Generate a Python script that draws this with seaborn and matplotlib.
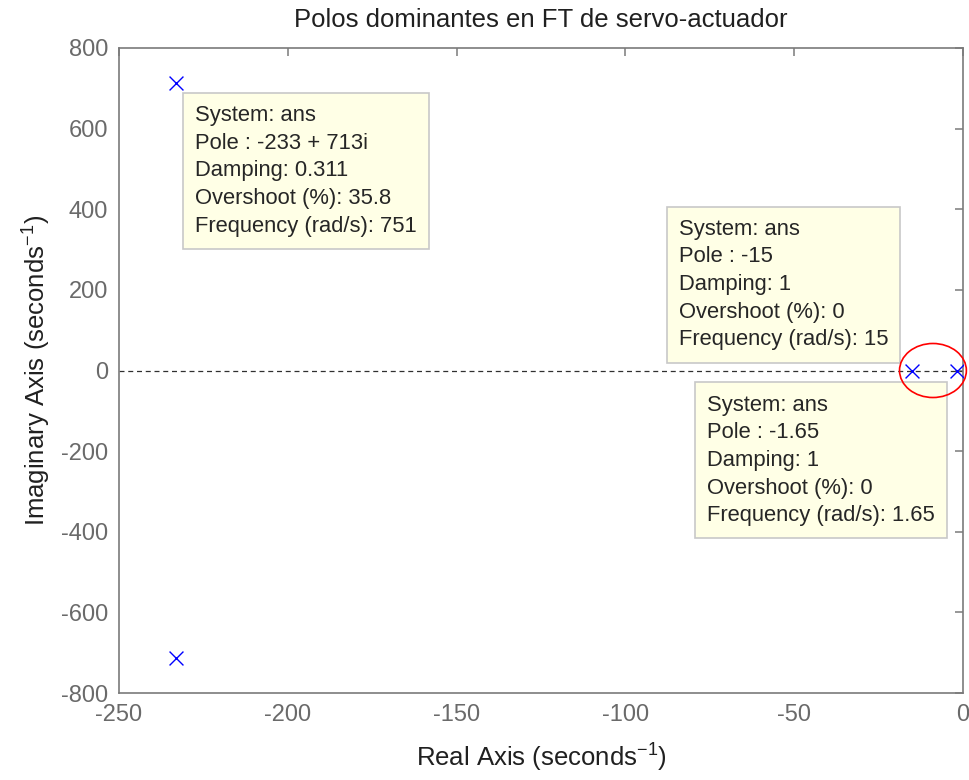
import matplotlib
matplotlib.use("Agg")
import matplotlib.pyplot as plt
from matplotlib.patches import Ellipse
import seaborn as sns
import pandas as pd

# polos del servo-actuador
polos_real = [-233.0, -233.0, -15.0, -1.65]
polos_imag = [713.0, -713.0, 0.0, 0.0]

# textos de los datatips
tip_polo1 = ["System: ans", "Pole : -233 + 713i", "Damping: 0.311",
             "Overshoot (%): 35.8", "Frequency (rad/s): 751"]
tip_polo2 = ["System: ans", "Pole : -15", "Damping: 1",
             "Overshoot (%): 0", "Frequency (rad/s): 15"]
tip_polo3 = ["System: ans", "Pole : -1.65", "Damping: 1",
             "Overshoot (%): 0", "Frequency (rad/s): 1.65"]

x_ticks = [-250, -200, -150, -100, -50, 0]
y_ticks = [-800, -600, -400, -200, 0, 200, 400, 600, 800]

sns.set_theme(style="white")
plt.rcParams['font.family'] = ['Liberation Sans', 'DejaVu Sans']
plt.rcParams['axes.unicode_minus'] = False

df = pd.DataFrame({'real': polos_real, 'imag': polos_imag})

fig = plt.figure(figsize=(9.69, 7.8), dpi=100)
ax = fig.add_axes([0.1228, 0.1115, 0.8710, 0.8270])

# linea de eje imaginario cero
ax.axhline(0, color='#303030', linestyle=(0, (4, 3)), linewidth=0.9, zorder=1)

sns.scatterplot(data=df, x='real', y='imag', marker='x', color='blue',
                s=100, linewidth=1.0, ax=ax, zorder=3)

ax.set_xlim(-250, 0)
ax.set_ylim(-800, 800)
ax.set_xticks(x_ticks)
ax.set_yticks(y_ticks)

for sp in ax.spines.values():
    sp.set_color('#7a7a7a')
    sp.set_linewidth(1.2)

ax.tick_params(direction='in', length=6, width=1.1, color='#7a7a7a',
               top=True, right=True, labelsize=17, labelcolor='#6a6a6a', pad=8)

ax.set_xlabel('Real Axis (seconds$^{\\mathregular{-1}}$)', fontsize=18.5, color='#202020', labelpad=10)
ax.set_ylabel('Imaginary Axis (seconds$^{\\mathregular{-1}}$)', fontsize=18.5, color='#202020', labelpad=6)
ax.set_title('Polos dominantes en FT de servo-actuador', fontsize=18.5,
             color='#202020', pad=15)

caja = dict(boxstyle='square,pad=0.55', facecolor='#ffffe6', edgecolor='#c8c8c8', linewidth=1.2)
fs_tip = 15.8
ls_tip = 1.42

ax.annotate("\n".join(tip_polo1), xy=(polos_real[0], polos_imag[0]),
            xytext=(19, -22), textcoords='offset pixels', ha='left', va='top',
            multialignment='left', fontsize=fs_tip, linespacing=ls_tip, bbox=caja, zorder=4)
ax.annotate("\n".join(tip_polo2), xy=(polos_real[2], polos_imag[2]),
            xytext=(-24, 20), textcoords='offset pixels', ha='right', va='bottom',
            multialignment='left', fontsize=fs_tip, linespacing=ls_tip, bbox=caja, zorder=4)
ax.annotate("\n".join(tip_polo3), xy=(polos_real[3], polos_imag[3]),
            xytext=(-250, -24), textcoords='offset pixels', ha='left', va='top',
            multialignment='left', fontsize=fs_tip, linespacing=ls_tip, bbox=caja, zorder=4)

# elipse roja marcando los polos dominantes
ax.add_patch(Ellipse((-8.9, 0), width=19.8, height=134, fill=False,
                     edgecolor='red', linewidth=1.2, zorder=5, clip_on=False))

fig.savefig('out.png', dpi=100)
